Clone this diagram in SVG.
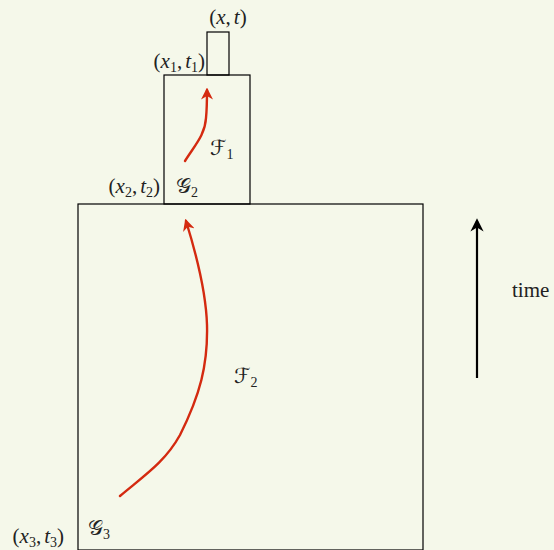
<svg xmlns="http://www.w3.org/2000/svg" width="554" height="550" viewBox="0 0 554 550">
<defs>
<style>
.box{fill:none;stroke:#000;stroke-width:1.2}
.lbl{font-family:'Liberation Serif','Times New Roman','DejaVu Serif',serif;font-size:21px;fill:#222}
.it{font-style:italic}
.sub{font-size:14px}
.cal{font-family:'DejaVu Serif','DejaVu Sans',serif;font-size:21px;font-style:normal}
.red{fill:none;stroke:#d42a10;stroke-width:2.4;stroke-linecap:round}
</style>
<marker id="ar" viewBox="0 0 10 10" refX="8" refY="5" markerWidth="5" markerHeight="5" orient="auto" markerUnits="strokeWidth">
<path d="M0,0 L10,5 L0,10 L3,5 Z" fill="#d42a10"/>
</marker>
<marker id="ab" viewBox="0 0 10 10" refX="8" refY="5" markerWidth="6" markerHeight="6" orient="auto" markerUnits="strokeWidth">
<path d="M0,0 L10,5 L0,10 L3,5 Z" fill="#000"/>
</marker>
</defs>
<rect width="554" height="550" fill="#f5f8ea"/>
<g id="box-large"><rect class="box" x="78" y="204" width="345" height="346"/></g>
<g id="box-mid"><rect class="box" x="164" y="75" width="86" height="129"/></g>
<g id="box-small"><rect class="box" x="207" y="32" width="22" height="43"/></g>
<g id="connectors">
<path class="red" d="M185,161 C195,145 205,135 206,118 C207,108 207,100 207,90" marker-end="url(#ar)"/>
<path class="red" d="M120,496 C145,475 165,462 180,435 C200,395 208,365 207,325 C206,290 195,250 186,221" marker-end="url(#ar)"/>
<path d="M477,378 L477,221" stroke="#000" stroke-width="2.2" fill="none" marker-end="url(#ab)"/>
</g>
<g id="labels">
<text class="lbl" x="228" y="24" text-anchor="middle">(<tspan class="it">x</tspan>,<tspan class="it" dx="3">t</tspan>)</text>
<text class="lbl" x="205" y="68" text-anchor="end">(<tspan class="it">x</tspan><tspan class="sub" dy="4">1</tspan><tspan dy="-4">,</tspan><tspan class="it" dx="3">t</tspan><tspan class="sub" dy="4">1</tspan><tspan dy="-4">)</tspan></text>
<text class="lbl" x="160" y="193" text-anchor="end">(<tspan class="it">x</tspan><tspan class="sub" dy="4">2</tspan><tspan dy="-4">,</tspan><tspan class="it" dx="3">t</tspan><tspan class="sub" dy="4">2</tspan><tspan dy="-4">)</tspan></text>
<text class="lbl" x="64" y="543" text-anchor="end">(<tspan class="it">x</tspan><tspan class="sub" dy="4">3</tspan><tspan dy="-4">,</tspan><tspan class="it" dx="3">t</tspan><tspan class="sub" dy="4">3</tspan><tspan dy="-4">)</tspan></text>
<text class="lbl" x="176" y="193"><tspan class="cal">𝒢</tspan><tspan class="sub" dy="4">2</tspan></text>
<text class="lbl" x="88" y="535"><tspan class="cal">𝒢</tspan><tspan class="sub" dy="4">3</tspan></text>
<text class="lbl" x="210" y="155"><tspan class="cal">ℱ</tspan><tspan class="sub" dy="4">1</tspan></text>
<text class="lbl" x="234" y="383"><tspan class="cal">ℱ</tspan><tspan class="sub" dy="4">2</tspan></text>
<text class="lbl" x="512" y="297">time</text>
</g>
</svg>
